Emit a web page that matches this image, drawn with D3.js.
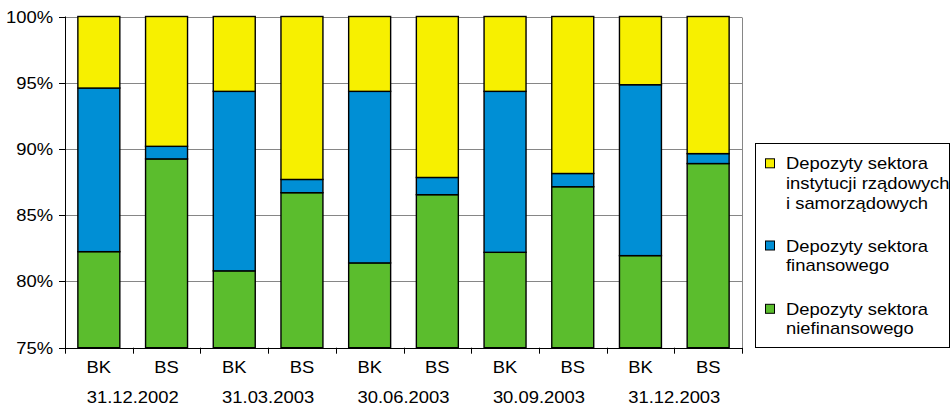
<!DOCTYPE html>
<html>
<head>
<meta charset="utf-8">
<script src="https://cdn.jsdelivr.net/npm/d3@7"></script>
<style>
  html, body { margin: 0; padding: 0; background: #fff; }
  svg text { font-family: "Liberation Sans", Arial, sans-serif; fill: #000; }
</style>
</head>
<body>
<svg id="chart" width="952" height="406"></svg>
<script>
// Bank groups per reporting date
const dates = ["31.12.2002", "31.03.2003", "30.06.2003", "30.09.2003", "31.12.2003"];
const groups = ["BK", "BS"];
// Share of deposits (%) by sector, one value per bar (date × group)
const nonFinancial = [82.25, 89.25, 80.8, 86.7, 81.4, 86.55, 82.2, 87.15, 81.95, 88.9];
const financial    = [12.35, 0.95, 13.55, 1.0, 12.95, 1.3, 12.15, 1.0, 12.9, 0.75];
const government   = nonFinancial.map((v, i) => 100 - v - financial[i]);
const yTicks = [75, 80, 85, 90, 95, 100];

const seriesNames = [
  ["Depozyty sektora", "instytucji rządowych", "i samorządowych"],
  ["Depozyty sektora", "finansowego"],
  ["Depozyty sektora", "niefinansowego"]
];
const colors = { gov: "#f7f000", fin: "#008fd5", non: "#5bbd2d" };

const svg = d3.select("#chart");
const X0 = 65, X1 = 742, YT = 16.5, YB = 347.7;
const SX = 1.15; // horizontal text stretch

const bars = [];
dates.forEach((d, di) => groups.forEach((g, gi) => {
  const i = di * 2 + gi;
  bars.push({ key: d + "|" + g, date: d, group: g,
    non: nonFinancial[i], fin: financial[i], gov: government[i] });
}));

const x = d3.scaleBand().domain(bars.map(b => b.key)).range([X0, X1])
  .paddingInner(0.38).paddingOuter(0.19);
const xOuter = d3.scaleBand().domain(bars.map(b => b.key)).range([X0, X1]);
const y = d3.scaleLinear().domain([75, 100]).range([YB, YT]);

function stretchedText(sel, px, py, anchor) {
  return sel.append("text")
    .attr("text-anchor", anchor)
    .attr("transform", `translate(${px},${py}) scale(${SX},1)`)
    .style("font-size", "16px");
}

// horizontal gridlines
svg.append("g").selectAll("line").data(yTicks.slice(1)).join("line")
  .attr("x1", X0).attr("x2", X1)
  .attr("y1", d => Math.round(y(d)) + 0.5).attr("y2", d => Math.round(y(d)) + 0.5)
  .attr("stroke", "#868686").attr("stroke-width", 1);
// right frame edge
svg.append("line").attr("x1", X1 + 0.5).attr("x2", X1 + 0.5)
  .attr("y1", Math.round(YT) + 0.5).attr("y2", YB)
  .attr("stroke", "#868686");

// stacked bars
const stack = d3.stack().keys(["non", "fin", "gov"]);
const layers = stack(bars);
svg.append("g").selectAll("g").data(layers).join("g")
  .attr("fill", d => colors[d.key])
  .selectAll("rect").data(d => d).join("rect")
  .attr("x", d => x(d.data.key))
  .attr("width", x.bandwidth())
  .attr("y", d => y(Math.min(100, d[1])))
  .attr("height", d => y(Math.max(75, d[0])) - y(Math.min(100, d[1])))
  .attr("stroke", "#000").attr("stroke-width", 1.4);

// y axis
const yAxis = svg.append("g");
yAxis.append("line").attr("x1", X0 + 0.5).attr("x2", X0 + 0.5)
  .attr("y1", YT).attr("y2", YB + 1).attr("stroke", "#000");
yTicks.forEach(t => {
  const py = Math.round(y(t)) + 0.5;
  yAxis.append("line").attr("x1", X0 - 6).attr("x2", X0).attr("y1", py).attr("y2", py)
    .attr("stroke", "#000");
  stretchedText(yAxis, 53, py + 5.8, "end").text(t + "%");
});

// x axis
const xAxis = svg.append("g");
xAxis.append("line").attr("x1", X0).attr("x2", X1 + 1)
  .attr("y1", Math.round(YB) + 0.5).attr("y2", Math.round(YB) + 0.5).attr("stroke", "#000");
const bounds = bars.map(b => xOuter(b.key)).concat([X1]);
bounds.forEach(bx => {
  xAxis.append("line").attr("x1", Math.round(bx) + 0.5).attr("x2", Math.round(bx) + 0.5)
    .attr("y1", YB).attr("y2", YB + 6).attr("stroke", "#000");
});
bars.forEach(b => {
  stretchedText(xAxis, xOuter(b.key) + xOuter.bandwidth() / 2, 372.5, "middle").text(b.group);
});
dates.forEach(d => {
  const cx = xOuter(d + "|BS");
  stretchedText(xAxis, cx, 402.5, "middle").text(d);
});

// legend
const legend = svg.append("g");
legend.append("rect").attr("x", 755.5).attr("y", 143.5).attr("width", 194).attr("height", 204)
  .attr("fill", "#fff").attr("stroke", "#000");
const legendItems = [
  { color: colors.gov, lines: seriesNames[0], y: 169.3 },
  { color: colors.fin, lines: seriesNames[1], y: 251.5 },
  { color: colors.non, lines: seriesNames[2], y: 314.8 }
];
legendItems.forEach(it => {
  legend.append("rect").attr("x", 765.5).attr("y", it.y - 10.5).attr("width", 9).attr("height", 9)
    .attr("fill", it.color).attr("stroke", "#000");
  it.lines.forEach((ln, k) => {
    stretchedText(legend, 786, it.y + k * 19.6, "start").text(ln);
  });
});
</script>
</body>
</html>
